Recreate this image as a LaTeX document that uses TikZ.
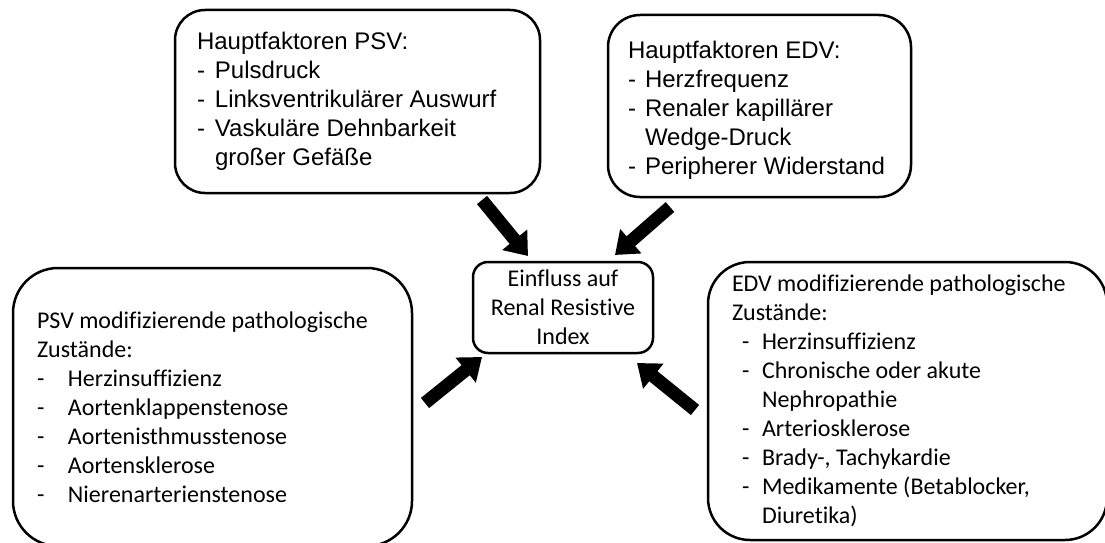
\documentclass[tikz,border=0pt]{standalone}
\usepackage{fontspec}
\setmainfont{Liberation Sans}
\newfontfamily\calibri[Ligatures=NoCommon]{Carlito}
\usetikzlibrary{arrows.meta}

% Spiegelstrich: Einzug, Breite
\newcommand\strich[2][0pt]{\hspace*{#1}\makebox[#2][l]{-}}

\begin{document}
\begin{tikzpicture}[x=1pt, y=-1pt,
    box/.style={draw, line width=2.5pt, rounded corners=#1, align=flush left,
      inner ysep=0pt, font=\fontsize{24}{29}\selectfont},
    pfeil/.style={line width=13pt, -{Triangle[length=21pt,width=31pt]}}]
  \useasboundingbox (0,0) rectangle (1105,543);
  % Hauptfaktoren oben
  \node[box=30pt, text width=321pt, inner xsep=22pt, minimum height=183pt]
    (psv) at (357.5,101.5) {Hauptfaktoren PSV:\\
      \strich{18pt}Pulsdruck\\
      \strich{18pt}Linksventrikulärer Auswurf\\
      \strich{18pt}Vaskuläre Dehnbarkeit\\
      \hspace*{18pt}großer Gefäße};
  \node[box=32pt, text width=263pt, inner xsep=20pt, minimum height=182pt]
    (edv) at (759.5,106) {\rule{0pt}{26pt}Hauptfaktoren EDV:\\
      \strich{17pt}Herzfrequenz\\
      \strich{17pt}Renaler kapillärer\\
      \hspace*{17pt}Wedge-Druck\\
      \strich{17pt}Peripherer Widerstand};
  % Mitte
  \node[box=15pt, align=center, font=\calibri\fontsize{24}{29}\selectfont,
    minimum width=180pt, minimum height=91pt, inner xsep=4pt]
    (ri) at (563,307.5) {Einfluss auf\\ Renal Resistive\\ Index};
  % pathologische Zustände unten
  \node[box=45pt, font=\calibri\fontsize{24}{29}\selectfont,
    text width=351pt, inner xsep=24pt, minimum height=278pt]
    (psvmod) at (212.5,407) {PSV modifizierende pathologische\\
      Zustände:\\
      \strich{31pt}Herzinsuffizienz\\
      \strich{31pt}Aortenklappenstenose\\
      \strich{31pt}Aortenisthmusstenose\\
      \strich{31pt}Aortensklerose\\
      \strich{31pt}Nierenarterienstenose};
  \node[box=42pt, font=\calibri\fontsize{24}{29}\selectfont,
    text width=351pt, inner xsep=24pt, minimum height=278pt]
    (edvmod) at (907.5,401) {EDV modifizierende pathologische\\
      Zustände:\\
      \strich[10pt]{20pt}Herzinsuffizienz\\
      \strich[10pt]{20pt}Chronische oder akute\\
      \hspace*{30pt}Nephropathie\\
      \strich[10pt]{20pt}Arteriosklerose\\
      \strich[10pt]{20pt}Brady-, Tachykardie\\
      \strich[10pt]{20pt}Medikamente (Betablocker,\\
      \hspace*{30pt}Diuretika)};
  % Pfeile zur Mitte
  \coordinate (p1) at (482,200);
  \coordinate (q1) at (528,256);
  \coordinate (p2) at (670,207);
  \coordinate (q2) at (615,255);
  \coordinate (p3) at (425,403);
  \coordinate (q3) at (482,357);
  \coordinate (p4) at (695,410);
  \coordinate (q4) at (637,363);
  \draw[pfeil] (p1) -- (q1);
  \draw[pfeil] (p2) -- (q2);
  \draw[pfeil] (p3) -- (q3);
  \draw[pfeil] (p4) -- (q4);
\end{tikzpicture}
\end{document}
